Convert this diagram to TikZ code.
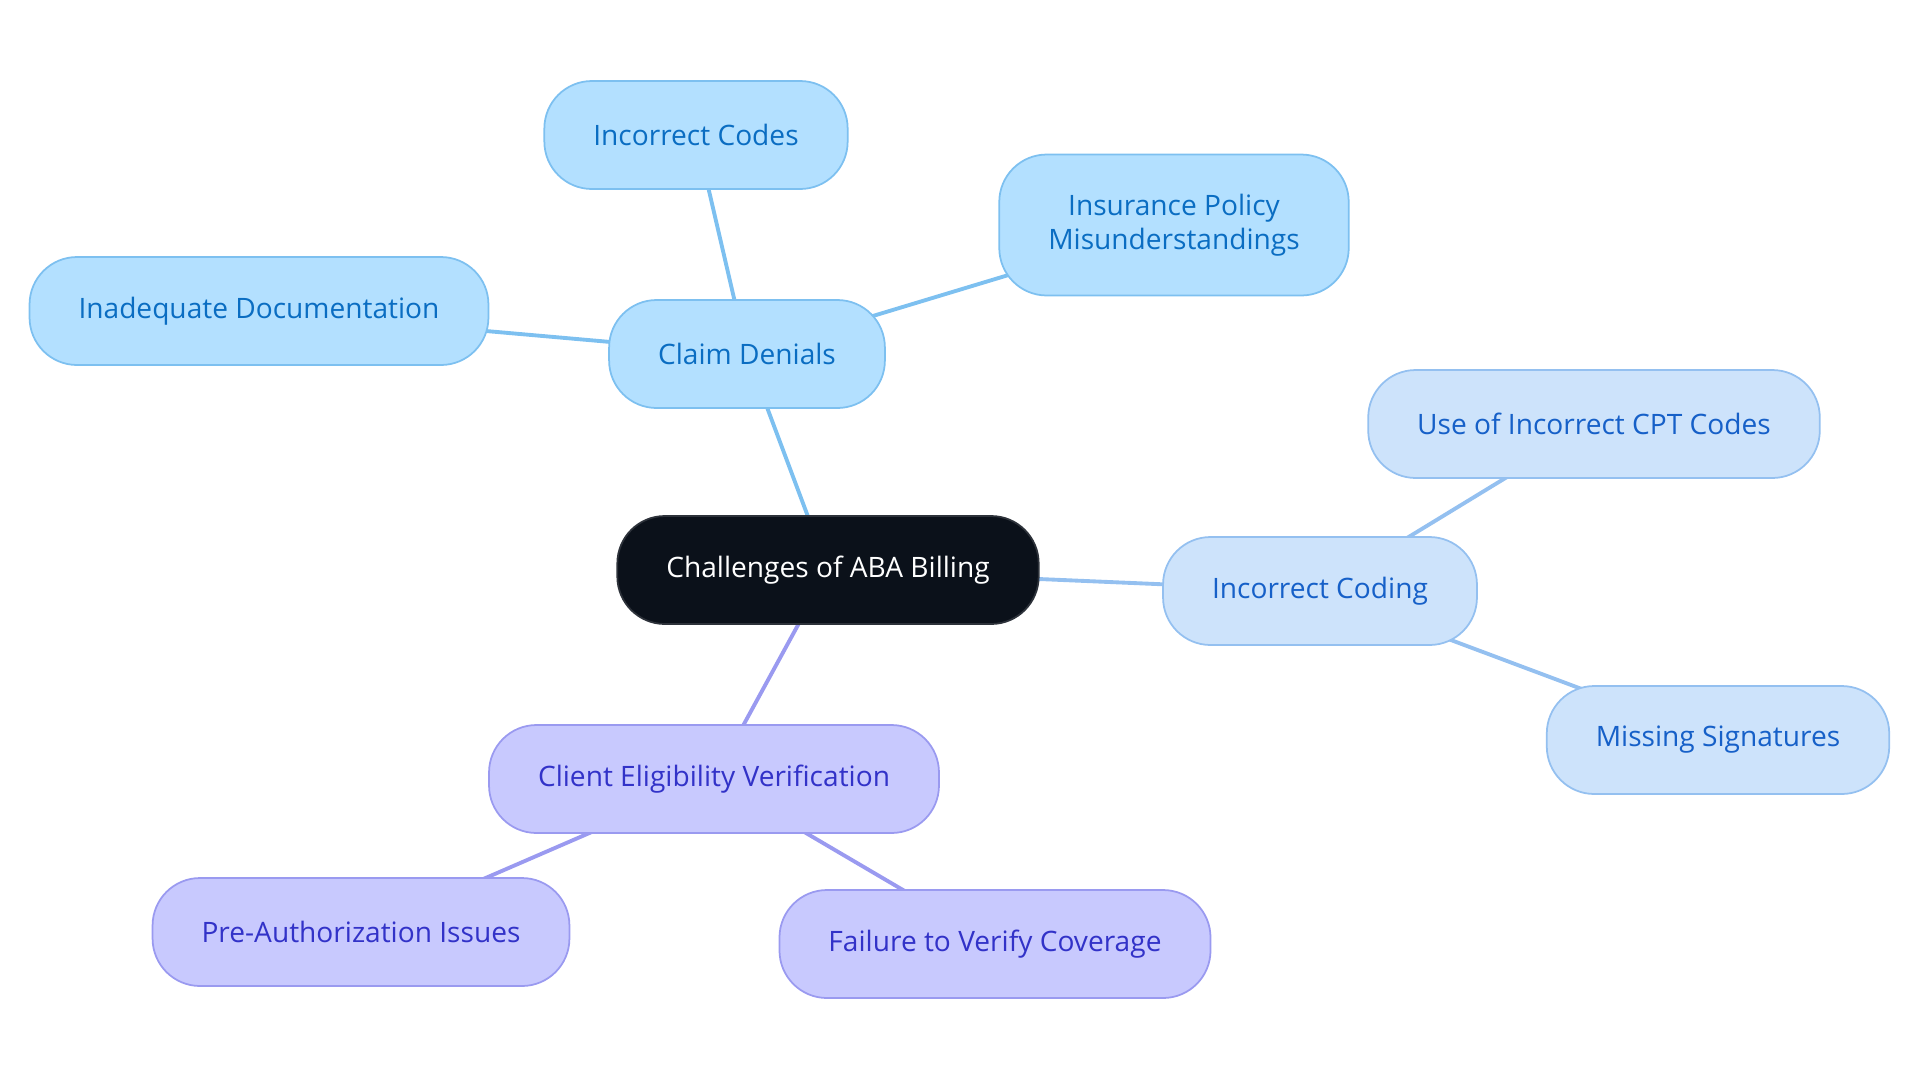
\documentclass[tikz,border=0pt]{standalone}
\usepackage{fontspec}
\setmainfont{Open Sans}
\usepackage{xcolor}
\usepackage{tikz}
\usetikzlibrary{backgrounds}
\definecolor{root-fill}{RGB}{11, 17, 26}
\definecolor{root-line}{RGB}{45, 50, 58}
\definecolor{sky-fill}{RGB}{179, 224, 255}
\definecolor{sky-line}{RGB}{125, 192, 240}
\definecolor{sky-text}{RGB}{10, 109, 194}
\definecolor{pale-fill}{RGB}{205, 227, 251}
\definecolor{pale-line}{RGB}{148, 192, 240}
\definecolor{pale-text}{RGB}{22, 96, 200}
\definecolor{lav-fill}{RGB}{200, 201, 254}
\definecolor{lav-line}{RGB}{154, 154, 240}
\definecolor{lav-text}{RGB}{50, 50, 200}

\begin{document}
\begin{tikzpicture}[x=0.02cm, y=-0.02cm,
    pill/.style={draw, line width=1pt, rounded corners=0.95cm, minimum height=2.16cm,
      inner xsep=0.98cm, align=center, font=\fontsize{16}{19}\selectfont},
    sky/.style={pill, fill=sky-fill, draw=sky-line, text=sky-text},
    pale/.style={pill, fill=pale-fill, draw=pale-line, text=pale-text},
    lav/.style={pill, fill=lav-fill, draw=lav-line, text=lav-text},
    link/.style={line width=2.2pt}]
          \useasboundingbox (0, 0) rectangle (1920, 1083);

          \node[pill, fill=root-fill, draw=root-line, text=white] (root) at (828, 570) {Challenges of ABA Billing};

          \node[sky] (denials) at (747, 354) {Claim Denials};
          \node[sky] (codes) at (696, 135) {Incorrect Codes};
          \node[sky, minimum height=2.82cm] (policy) at (1174, 225) {Insurance Policy\\Misunderstandings};
          \node[sky] (docs) at (259, 311) {Inadequate Documentation};

          \node[pale] (coding) at (1320, 591) {Incorrect Coding};
          \node[pale] (cpt) at (1594, 424) {Use of Incorrect CPT Codes};
          \node[pale] (sign) at (1718, 740) {Missing Signatures};

          \node[lav] (elig) at (714, 779) {Client Eligibility Verification};
          \node[lav] (preauth) at (361, 932) {Pre-Authorization Issues};
          \node[lav] (cover) at (995, 944) {Failure to Verify Coverage};

          % connectors, behind the boxes
          \begin{scope}[on background layer]
            \draw[link, sky-line] (root.center) -- (denials.center);
            \draw[link, sky-line] (denials.center) -- (codes.center);
            \draw[link, sky-line] (denials.center) -- (policy.center);
            \draw[link, sky-line] (denials.center) -- (docs.center);
            \draw[link, pale-line] (root.center) -- (coding.center);
            \draw[link, pale-line] (coding.center) -- (cpt.center);
            \draw[link, pale-line] (coding.center) -- (sign.center);
            \draw[link, lav-line] (root.center) -- (elig.center);
            \draw[link, lav-line] (elig.center) -- (preauth.center);
            \draw[link, lav-line] (elig.center) -- (cover.center);
          \end{scope}

        \end{tikzpicture}
\end{document}
